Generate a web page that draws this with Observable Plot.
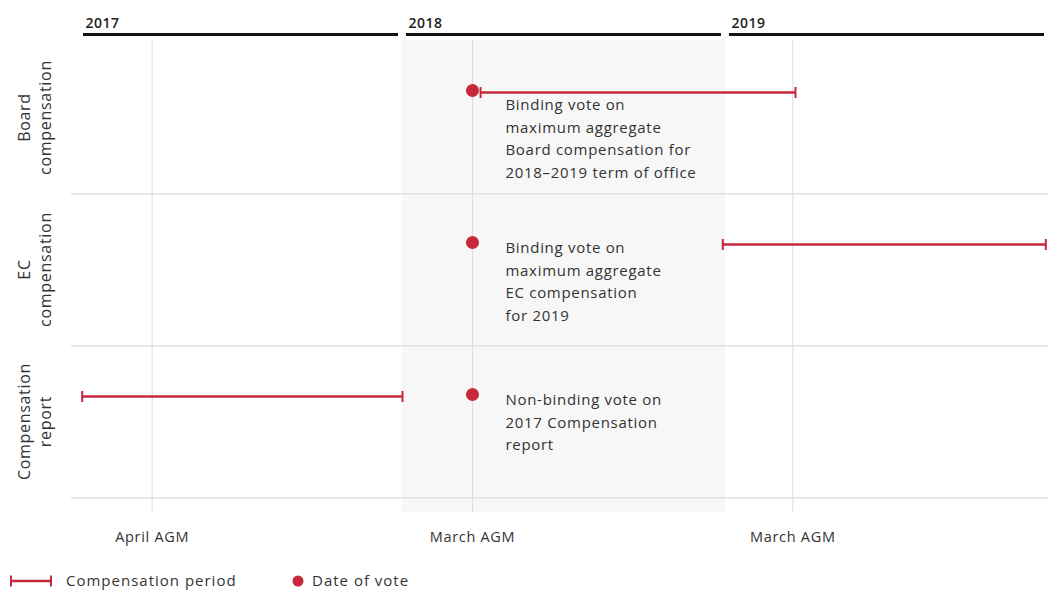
<!DOCTYPE html>
<html><head><meta charset="utf-8">
<script src="https://cdn.jsdelivr.net/npm/d3@7"></script>
<script src="https://cdn.jsdelivr.net/npm/@observablehq/plot@0.6"></script>
<style>
body{margin:0;background:#fff;font-family:"Open Sans",sans-serif;}
#chart{width:1048px;position:relative;}
#chart svg{display:block;}
.legend{position:relative;height:33px;font-size:15px;color:#333;letter-spacing:1px;}
.legend > *{position:absolute;}
</style></head><body><div id="chart"></div>
<script>
// months since January 2017
const years = ["2017", "2018", "2019"];
const yearStart = [0, 12, 24];
const rows = ["Board compensation", "EC compensation", "Compensation report"];
const rowLabels = ["Board\ncompensation", "EC\ncompensation", "Compensation\nreport"];
const periodStart = [14.9, 23.9, 0.1];
const periodEnd = [26.6, 35.9, 12];
const voteDate = [14.6, 14.6, 14.6];
const voteText = [
  "Binding vote on\nmaximum aggregate\nBoard compensation for\n2018–2019 term of office",
  "Binding vote on\nmaximum aggregate\nEC compensation\nfor 2019",
  "Non-binding vote on\n2017 Compensation\nreport"
];
const agmDate = [2.7, 14.6, 26.5];
const agmLabel = ["April AGM", "March AGM", "March AGM"];

const red = "#c8283c";
const font = "Open Sans";
const W = 1048, H = 520, ML = 79, MB = 62;
const bw = (H - MB) / rows.length;

const yearData = years.map((y, i) => ({year: y, start: yearStart[i], end: yearStart[i] + 12}));
const periods = rows.map((r, i) => ({row: r, start: periodStart[i], end: periodEnd[i]}));
const votes = rows.map((r, i) => ({row: r, date: voteDate[i], text: voteText[i], label: rowLabels[i]}));
const agms = agmDate.map((d, i) => ({date: d, label: agmLabel[i]}));

function tickMarker(color) {
  const m = d3.create("svg:marker")
    .attr("viewBox", "-6 -6 12 12").attr("markerWidth", 12).attr("markerHeight", 12)
    .attr("markerUnits", "userSpaceOnUse").attr("orient", "auto")
    .attr("fill", "none").attr("stroke", color).attr("stroke-width", 2);
  m.append("path").attr("d", "M0,-5.5V5.5");
  return m.node();
}

const header = Plot.plot({
  width: W, height: 40, marginLeft: ML, marginRight: 0, marginTop: 33, marginBottom: 4,
  style: {fontFamily: font, background: "transparent"},
  x: {domain: [0, 36], axis: null},
  marks: [
    Plot.barX(yearData, {x1: "start", x2: "end", fill: "#111", insetLeft: 4, insetRight: 4}),
    Plot.text(yearData, {x: "start", text: "year", frameAnchor: "top", textAnchor: "start", lineAnchor: "bottom", dx: 6, dy: -6, fontSize: 14, fontWeight: 600, fill: "#222"})
  ]
});
for (const t of header.querySelectorAll("g[aria-label=text] text")) t.style.letterSpacing = "0.5px";

const textStyle = {textAnchor: "start", lineAnchor: "top", dx: 33, lineHeight: 1.5, fontSize: 15, fill: "#333"};

const main = Plot.plot({
  width: W, height: H, marginLeft: ML, marginRight: 0, marginTop: 0, marginBottom: MB,
  style: {fontFamily: font, background: "transparent", overflow: "visible"},
  x: {domain: [0, 36], axis: null},
  y: {type: "band", domain: rows, padding: 0, axis: null},
  marks: [
    Plot.barX([yearData[1]], {x1: "start", x2: "end", fill: "#f7f7f7", insetBottom: -14}),
    Plot.ruleX(agms, {x: "date", stroke: "#dcdcdc", insetBottom: -14}),
    Plot.ruleY(rows, {y: d => d, x1: -0.3, x2: 36, stroke: "#e0e0e0", strokeWidth: 1.5, dy: bw / 2}),
    Plot.link(periods, {x1: "start", x2: "end", y1: "row", y2: "row", stroke: red, strokeWidth: 2.5, markerStart: tickMarker, markerEnd: tickMarker, dy: -25}),
    Plot.dot(votes, {x: "date", y: "row", r: 6.5, fill: red, dy: -27}),
    Plot.text(votes.slice(0, 1), {x: "date", y: "row", text: "text", dy: -23, ...textStyle}),
    Plot.text(votes.slice(1), {x: "date", y: "row", text: "text", dy: -32, ...textStyle}),
    Plot.text(votes, {y: "row", text: "label", frameAnchor: "left", dx: -46, rotate: -90, textAnchor: "middle", lineAnchor: "middle", lineHeight: 1.3, fontSize: 16, fontWeight: 500, fill: "#333"}),
    Plot.text(agms, {x: "date", text: "label", frameAnchor: "bottom", lineAnchor: "middle", dy: 39, fontSize: 14.5, fill: "#333"})
  ]
});

// letter spacing for text (style only)
for (const t of main.querySelectorAll("g[aria-label=text] text")) t.style.letterSpacing = "0.7px";

const chart = document.getElementById("chart");
chart.append(header, main);
const legend = document.createElement("div");
legend.className = "legend";
legend.innerHTML = `
<svg width="46" height="14" style="left:8px;top:14px"><line x1="3" y1="7" x2="43" y2="7" stroke="${red}" stroke-width="2.5"/><line x1="3" y1="1.5" x2="3" y2="12.5" stroke="${red}" stroke-width="2"/><line x1="43" y1="1.5" x2="43" y2="12.5" stroke="${red}" stroke-width="2"/></svg>
<span style="left:66px;top:10px">Compensation period</span>
<svg width="12" height="12" style="left:292px;top:15px"><circle cx="6" cy="6" r="5.5" fill="${red}"/></svg>
<span style="left:312px;top:10px">Date of vote</span>`;
chart.append(legend);
</script></body></html>
